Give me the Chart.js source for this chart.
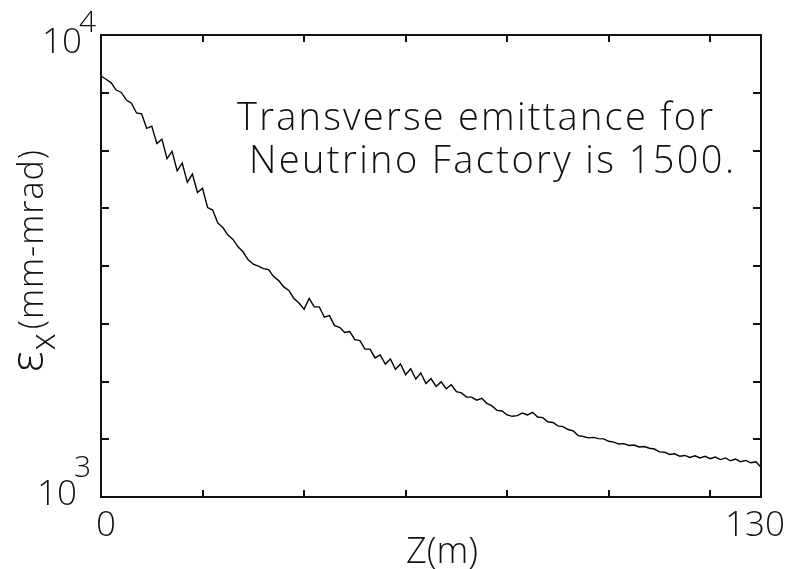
<!DOCTYPE html>
<html>
<head>
<meta charset="utf-8">
<script src="https://cdn.jsdelivr.net/npm/chart.js@4/dist/chart.umd.min.js"></script>
<style>
  html, body { margin: 0; padding: 0; background: #fff; }
  #wrap { width: 792px; height: 569px; position: relative; }
</style>
</head>
<body>
<div id="wrap"><canvas id="myChart"></canvas></div>
<script>
// emittance along the channel, one reading per metre (z = 0..130 m)
var emittance = [
  8150, 8020, 7880, 7600, 7510, 7230, 7120, 6780, 6750, 6280,
  6350, 5820, 5950, 5400, 5600, 5080, 5280, 4800, 5000, 4560,
  4660, 4230, 4180, 3920, 3830, 3690, 3610, 3480, 3390, 3260,
  3190, 3160, 3120, 3105, 3000, 2940, 2850, 2800, 2690, 2630,
  2550, 2690, 2580, 2580, 2450, 2470, 2350, 2330, 2270, 2280,
  2190, 2180, 2090, 2090, 2000, 2030, 1940, 1990, 1890, 1940,
  1840, 1895, 1800, 1855, 1760, 1805, 1735, 1775, 1715, 1750,
  1690, 1680, 1645, 1645, 1620, 1635, 1595, 1575, 1540, 1535,
  1505, 1495, 1500, 1520, 1505, 1525, 1490, 1485, 1455, 1450,
  1425, 1420, 1400, 1390, 1358, 1352, 1343, 1346, 1338, 1336,
  1320, 1315, 1302, 1305, 1293, 1296, 1283, 1286, 1275, 1270,
  1252, 1250, 1236, 1240, 1225, 1230, 1218, 1228, 1215, 1225,
  1210, 1220, 1205, 1215, 1198, 1208, 1192, 1200, 1186, 1192,
  1160
];
var zStep = 1;
var zPositions = emittance.map(function (v, i) { return i * zStep; });

var xTicks = [0, 20, 40, 60, 80, 100, 120, 130];
var xTickLabels = ['0', '', '', '', '', '', '', '130'];
var yTicks = [1000, 1334, 1778, 2371, 3162, 4217, 5623, 7499, 10000];
var yTickLabels = [['10', '3'], '', '', '', '', '', '', '', ['10', '4']];

var annotation = ['Transverse emittance for', 'Neutrino Factory is 1500.'];
var xTitle = 'Z(m)';
var yTitle = ['\u03b5', 'x', '(mm-mrad)'];

var FONT = '"Open Sans", Roboto, "DejaVu Sans", sans-serif';
var INK = '#111';

function fitText(ctx, text, x, y, width) {
  ctx.letterSpacing = '0px';
  var w = ctx.measureText(text).width;
  var gap = (width - w) / Math.max(1, text.length - 1);
  ctx.letterSpacing = gap + 'px';
  ctx.fillText(text, x, y);
  ctx.letterSpacing = '0px';
}

var framePlugin = {
  id: 'frame',
  beforeDraw: function (chart) {
    var ctx = chart.ctx;
    ctx.save();
    ctx.fillStyle = '#fff';
    ctx.fillRect(0, 0, chart.width, chart.height);
    ctx.restore();
  },
  afterDraw: function (chart) {
    var ctx = chart.ctx;
    var a = chart.chartArea;
    var xs = chart.scales.x, ys = chart.scales.y;
    ctx.save();

    // box and inward ticks
    ctx.strokeStyle = INK;
    ctx.lineWidth = 2;
    ctx.strokeRect(a.left, a.top, a.right - a.left, a.bottom - a.top);
    ctx.beginPath();
    xs.ticks.forEach(function (t) {
      var px = Math.round(xs.getPixelForValue(t.value));
      if (px <= a.left + 1 || px >= a.right - 1) return;
      ctx.moveTo(px, a.bottom); ctx.lineTo(px, a.bottom - 7);
      ctx.moveTo(px, a.top); ctx.lineTo(px, a.top + 7);
    });
    ys.ticks.forEach(function (t) {
      var py = Math.round(ys.getPixelForValue(t.value));
      if (py <= a.top + 1 || py >= a.bottom - 1) return;
      ctx.moveTo(a.left, py); ctx.lineTo(a.left + 8, py);
      ctx.moveTo(a.right, py); ctx.lineTo(a.right - 8, py);
    });
    ctx.stroke();

    ctx.fillStyle = INK;
    ctx.textBaseline = 'alphabetic';

    // x tick labels
    ctx.font = '300 35px ' + FONT;
    ctx.textAlign = 'center';
    xs.ticks.forEach(function (t) {
      var lab = xTickLabels[xTicks.indexOf(t.value)];
      if (!lab) return;
      var px = xs.getPixelForValue(t.value);
      var dx = t.value === 0 ? 5 : -6;
      ctx.fillText(lab, px + dx, a.bottom + 39);
    });

    // y tick labels: 10 with superscript exponent
    ys.ticks.forEach(function (t) {
      var lab = yTickLabels[yTicks.indexOf(t.value)];
      if (!lab) return;
      var py = ys.getPixelForValue(t.value);
      var top = t.value === 10000;
      ctx.font = '300 35px ' + FONT;
      ctx.textAlign = 'right';
      var right = top ? a.left - 19 : a.left - 24;
      ctx.fillText(lab[0], right, py + (top ? 18 : 8));
      ctx.font = '300 30px ' + FONT;
      ctx.textAlign = 'left';
      ctx.fillText(lab[1], right - 3, py + (top ? -3 : -20));
    });

    // x title
    ctx.font = '300 36px ' + FONT;
    ctx.textAlign = 'center';
    ctx.fillText(xTitle, (a.left + a.right) / 2 + 11, a.bottom + 66);

    // y title, rotated
    ctx.save();
    ctx.translate(43, 372);
    ctx.rotate(-Math.PI / 2);
    ctx.textAlign = 'left';
    ctx.font = '300 46px ' + FONT;
    ctx.fillText(yTitle[0], 0, 0);
    var w0 = ctx.measureText(yTitle[0]).width;
    ctx.font = '300 34px ' + FONT;
    ctx.fillText(yTitle[1], w0 + 1, 12);
    var w1 = ctx.measureText(yTitle[1]).width;
    fitText(ctx, yTitle[2], w0 + w1 + 5, 0, 372 - 150 - (w0 + w1 + 5));
    ctx.restore();

    // annotation text
    ctx.font = '300 38px ' + FONT;
    ctx.textAlign = 'left';
    fitText(ctx, annotation[0], 237, 130, 476);
    fitText(ctx, annotation[1], 249, 173, 485);

    ctx.restore();
  }
};

var ctx = document.getElementById('myChart').getContext('2d');
var myChart = new Chart(ctx, {
  type: 'line',
  data: {
    datasets: [{
      data: zPositions.map(function (z, i) { return { x: z, y: emittance[i] }; }),
      borderColor: '#000',
      borderWidth: 1.4,
      pointRadius: 0,
      tension: 0,
      fill: false
    }]
  },
  options: {
    responsive: true,
    maintainAspectRatio: false,
    devicePixelRatio: 1,
    animation: false,
    layout: { padding: { left: 101, right: 31, top: 35, bottom: 72 } },
    plugins: {
      legend: { display: false },
      tooltip: { enabled: false }
    },
    scales: {
      x: {
        type: 'linear',
        min: 0,
        max: 130,
        afterBuildTicks: function (scale) {
          scale.ticks = xTicks.map(function (v) { return { value: v }; });
        },
        ticks: { display: false },
        grid: { display: false, drawTicks: false },
        border: { display: false }
      },
      y: {
        type: 'logarithmic',
        min: 1000,
        max: 10000,
        afterBuildTicks: function (scale) {
          scale.ticks = yTicks.map(function (v) { return { value: v }; });
        },
        ticks: { display: false },
        grid: { display: false, drawTicks: false },
        border: { display: false }
      }
    }
  },
  plugins: [framePlugin]
});
</script>
</body>
</html>
